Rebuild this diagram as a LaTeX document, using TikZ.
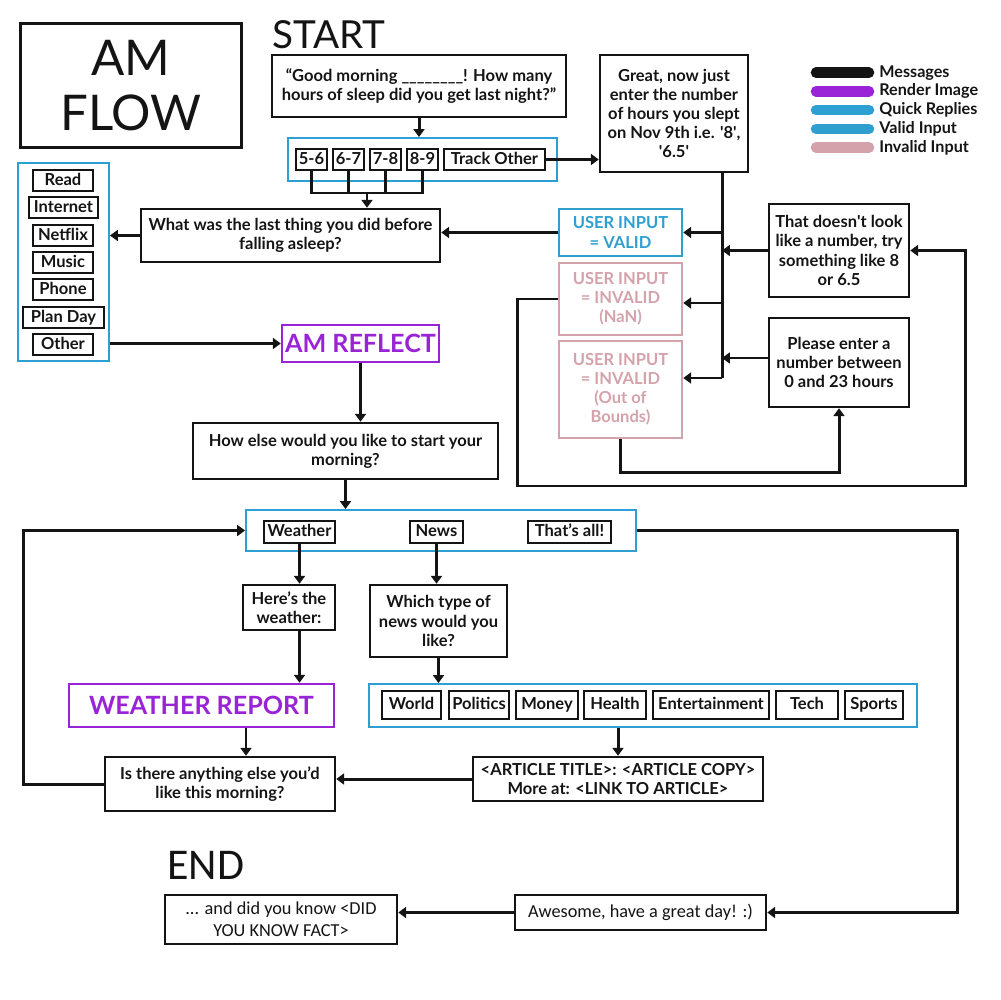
\documentclass[tikz,border=0pt]{standalone}
\usepackage{fontspec}
\setmainfont{Lato}
\newfontfamily\calibfont{Carlito}
\usetikzlibrary{arrows.meta,calc}

\definecolor{msgblack}{HTML}{141414}
\definecolor{replyblue}{HTML}{2CA0D2}
\definecolor{validblue}{HTML}{2F9FD0}
\definecolor{renderpurple}{HTML}{9B23D7}
\definecolor{invalidpink}{HTML}{D4A2AA}

\newcommand\bodyfont{\fontsize{9.4}{10.9}\selectfont\bfseries}
\newcommand\bigfont{\fontsize{14.3}{16}\selectfont\bfseries}

\begin{document}
\begin{tikzpicture}[x=0.02cm, y=-0.02cm,
  msg/.style={draw=msgblack, line width=1.4pt, align=center, inner sep=0pt, font=\bodyfont, text=msgblack},
  endmsg/.style={msg, font=\calibfont\fontsize{10.4}{12.4}\selectfont},
  btn/.style={draw=msgblack, line width=1.1pt, inner sep=0pt, font=\bodyfont, text=msgblack, minimum height=4.3mm, text height=1.45ex, text depth=0.35ex},
  replybar/.style={draw=replyblue, line width=1.1pt, inner sep=0pt},
  render/.style={draw=renderpurple, line width=1.4pt, text=renderpurple, inner sep=0pt, font=\bigfont},
  validbox/.style={draw=validblue, line width=1.4pt, text=validblue, align=center, inner sep=0pt, font=\bodyfont, minimum width=24.6mm},
  invalidbox/.style={draw=invalidpink, line width=1.4pt, text=invalidpink, align=center, inner sep=0pt, font=\bodyfont, minimum width=24.6mm},
  link/.style={draw=msgblack, line width=1.7pt, -{Triangle[length=4.5pt,width=6.2pt]}},
  line/.style={draw=msgblack, line width=1.7pt},
  legendline/.style={line width=6pt, line cap=round}]

\useasboundingbox (0,0) rectangle (1000,1000);

% title and start
\node[msg, line width=1.7pt, font=\fontsize{28}{31}\selectfont, minimum width=44.4mm, minimum height=25mm] (title) at (131,85.5) {AM\\FLOW};
\node[anchor=base west, inner sep=0pt, font=\fontsize{22}{24}\selectfont, text=msgblack] (start) at (272,49) {START};

% legend
\foreach \c/\t [count=\i] in {msgblack/Messages, renderpurple/Render Image, replyblue/Quick Replies, validblue/Valid Input, invalidpink/Invalid Input}{
  \draw[legendline, \c] (816,{54+18.7*\i}) -- (869,{54+18.7*\i});
  \node[anchor=west, inner sep=0pt, font=\fontsize{9.2}{10}\selectfont\bfseries, text=msgblack] (leg\i) at (879,{54+18.7*\i}) {\t};
}

% sleep question
\node[msg, minimum width=58.8mm, minimum height=12.4mm] (gm) at (419,86) {“Good morning \_\_\_\_\_\_\_\_! How many\\hours of sleep did you get last night?”};
\node[replybar, minimum width=53.8mm, minimum height=8.6mm] (hours) at (422.5,159.5) {};
\node[btn, minimum width=6.2mm] (h56) at (311.5,159.5) {5-6};
\node[btn, minimum width=6.2mm] (h67) at (348.5,159.5) {6-7};
\node[btn, minimum width=6.2mm] (h78) at (385.5,159.5) {7-8};
\node[btn, minimum width=6.2mm] (h89) at (422.5,159.5) {8-9};
\node[btn, minimum width=20.2mm] (track) at (494.5,159.5) {Track Other};
\node[msg, minimum width=29.6mm, minimum height=23.4mm] (great) at (674,113.5) {Great, now just\\enter the number\\of hours you slept\\on Nov 9th i.e. \textquotesingle8\textquotesingle,\\\textquotesingle6.5\textquotesingle};

% user input checks
\node[validbox, minimum height=9.4mm] (valid) at (620.5,232.5) {USER INPUT\\= VALID};
\node[invalidbox, minimum height=14.4mm] (nan) at (620.5,299) {USER INPUT\\= INVALID\\(NaN)};
\node[invalidbox, minimum height=19.4mm] (oob) at (620.5,389.5) {USER INPUT\\= INVALID\\(Out of\\Bounds)};
\node[msg, minimum width=28mm, minimum height=18.6mm] (nonum) at (839,250.5) {That doesn\textquotesingle t look\\like a number, try\\something like 8\\or 6.5};
\node[msg, minimum width=28mm, minimum height=17.8mm] (range) at (839,362.5) {Please enter a\\number between\\0 and 23 hours};

% last activity
\node[msg, minimum width=59.8mm, minimum height=10.6mm] (lastq) at (290.5,235.5) {What was the last thing you did before\\falling asleep?};
\node[replybar, minimum width=18.2mm, minimum height=39.6mm] (acts) at (63.5,262) {};
\node[btn, minimum width=12mm] (read) at (63,180.5) {Read};
\node[btn, minimum width=13.8mm] (internet) at (63.5,207.5) {Internet};
\node[btn, minimum width=12mm] (netflix) at (63,235.5) {Netflix};
\node[btn, minimum width=12mm] (music) at (63,262.5) {Music};
\node[btn, minimum width=12mm] (phone) at (63,289.5) {Phone};
\node[btn, minimum width=16.2mm] (planday) at (63.5,317.5) {Plan Day};
\node[btn, minimum width=12mm] (other) at (63,344.5) {Other};
\node[render, minimum width=31.4mm, minimum height=7.4mm] (reflect) at (360.5,343.5) {AM REFLECT};
\node[msg, minimum width=61mm, minimum height=11.2mm] (howelse) at (345.5,451) {How else would you like to start your\\morning?};

% weather and news
\node[replybar, minimum width=78mm, minimum height=8.2mm] (more) at (441,530.5) {};
\node[btn, minimum width=14.2mm] (wbtn) at (299.5,532) {Weather};
\node[btn, minimum width=10.6mm] (nbtn) at (436.5,532) {News};
\node[btn, minimum width=16.6mm] (done) at (569.5,532) {That’s all!};
\node[msg, minimum width=18.4mm, minimum height=9mm] (heres) at (289,607.5) {Here’s the\\weather:};
\node[render, minimum width=53mm, minimum height=8.6mm] (wreport) at (201.5,705.5) {WEATHER REPORT};
\node[msg, minimum width=46mm, minimum height=10.8mm] (anything) at (220,784) {Is there anything else you’d\\like this morning?};
\node[msg, minimum width=27.4mm, minimum height=14.4mm] (whichnews) at (438.5,621) {Which type of\\news would you\\like?};
\node[replybar, minimum width=109.6mm, minimum height=8.6mm] (topics) at (643,705.5) {};
\foreach \n/\x/\w/\t in {world/411.5/11.8/World, politics/479/12/Politics, money/547/12.4/Money, health/615/12.4/Health, ent/711/23.2/Entertainment, tech/807/12.4/Tech, sports/874/11.6/Sports}
  \node[btn, minimum width=\w mm, minimum height=5.6mm] (\n) at (\x,705) {\t};
\node[msg, minimum width=58mm, minimum height=8.8mm] (article) at (618,779) {<ARTICLE TITLE>: <ARTICLE COPY>\\More at: <LINK TO ARTICLE>};

% end
\node[anchor=base west, inner sep=0pt, font=\calibfont\fontsize{25}{27}\selectfont, text=msgblack] (endlbl) at (167,879) {END};
\node[endmsg, minimum width=50.2mm, minimum height=7mm] (awesome) at (640.5,912.5) {Awesome, have a great day! :)};
\node[endmsg, minimum width=46.4mm, minimum height=9.8mm] (fact) at (281,919.5) {... and did you know <DID\\YOU KNOW FACT>};

% connectors
\draw[link] (gm.south -| 419,0) -- (hours.north -| 419,0);
\coordinate (hub) at (367,193);
\draw[line] (h56.south) |- (hub) -| (h89.south);
\draw[line] (h67.south) -- (h67.south |- hub);
\draw[line] (h78.south) -- (h78.south |- hub);
\draw[link] (hub) -- (hub |- lastq.north);
\draw[link] (track.east) -- (track.east -| great.west);

\coordinate (ttop) at (722,172);
\coordinate (tbot) at (722,378);
\draw[line] (ttop) -- (tbot);
\draw[link] (ttop |- valid.east) -- (valid.east);
\draw[link] (ttop |- 0,303) -- (nan.east |- 0,303);
\draw[link] (tbot) -- (tbot -| oob.east);
\draw[link] (nonum.west) -- (nonum.west -| ttop);
\draw[link] (range.west |- 0,358) -- (ttop |- 0,358);
\coordinate (loopa) at (517,486);
\coordinate (loopb) at (965,486);
\draw[link] (nan.west) -| (loopa) -- (loopb) |- (nonum.east);
\draw[link] (oob.south) -- ++(0,33) -| (range.south);

\draw[link] (valid.west) -- (valid.west -| lastq.east);
\draw[link] (lastq.west) -- (lastq.west -| acts.east);
\draw[link] (acts.east |- reflect.west) -- (reflect.west);
\draw[link] (reflect.south) -- (reflect.south |- howelse.north);
\draw[link] (howelse.south) -- (howelse.south |- more.north);

\draw[link] (wbtn.south) -- (wbtn.south |- heres.north);
\draw[link] (wbtn.south |- heres.south) -- (wbtn.south |- wreport.north);
\draw[link] ([xshift=5.2mm]anything.north |- wreport.south) -- ([xshift=5.2mm]anything.north);
\draw[link] (anything.west) -- ++(-80,0) |- (more.west);
\draw[link] (nbtn.south) -- (nbtn.south |- whichnews.north);
\draw[link] (whichnews.south) -- (whichnews.south |- topics.north);
\draw[link] (article.north |- topics.south) -- (article.north);
\draw[link] (article.west) -- (article.west -| anything.east);

\draw[link] (more.east) -- ++(321,0) |- (awesome.east);
\draw[link] (awesome.west) -- (awesome.west -| fact.east);
\end{tikzpicture}
\end{document}
